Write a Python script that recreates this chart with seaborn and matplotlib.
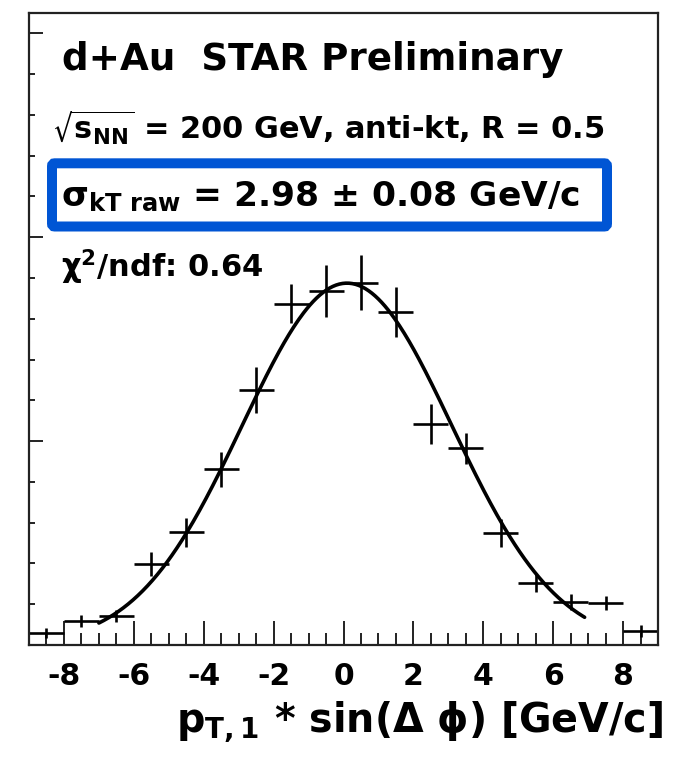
import numpy as np
import pandas as pd
import seaborn as sns
import matplotlib.pyplot as plt
from matplotlib.patches import FancyBboxPatch
from matplotlib.ticker import MultipleLocator

# bin centres and contents (arbitrary y units)
bin_centers = [-8.5, -7.5, -6.5, -5.5, -4.5, -3.5, -2.5, -1.5, -0.5,
               0.5, 1.5, 2.5, 3.5, 4.5, 5.5, 6.5, 7.5, 8.5]
counts = [5.9, 11.8, 14.2, 39.6, 55.2, 86.1, 125.3, 167.5, 173.7,
          177.8, 163.4, 108.2, 96.4, 54.8, 30.2, 21.1, 20.7, 7.0]
count_errs = [2.5, 2.9, 2.9, 5.9, 6.9, 8.8, 11.3, 9.8, 12.7,
              13.5, 12.3, 9.8, 7.8, 6.9, 4.4, 3.9, 3.4, 2.9]
bin_half_width = 0.5

# gaussian fit parameters
fit_amp = 177.5
fit_mean = 0.1
fit_sigma = 3.0
fit_range = (-7.0, 6.9)

tick_values = [-8, -6, -4, -2, 0, 2, 4, 6, 8]

df = pd.DataFrame({"x": bin_centers, "y": counts, "err": count_errs})
xf = np.linspace(fit_range[0], fit_range[1], 300)
fit_df = pd.DataFrame({"x": xf,
                       "y": fit_amp * np.exp(-0.5 * ((xf - fit_mean) / fit_sigma) ** 2)})

sns.set_theme(style="ticks")
plt.rcParams["font.family"] = ["DejaVu Sans"]
plt.rcParams["font.weight"] = "bold"
plt.rcParams["text.color"] = "black"
plt.rcParams["mathtext.fontset"] = "dejavusans"
plt.rcParams["axes.unicode_minus"] = False

W, H = 678, 766
fig = plt.figure(figsize=(W / 100, H / 100), dpi=100)
ax = fig.add_axes([29 / W, 1 - 645 / H, (658 - 29) / W, (645 - 13) / H])

# data points as ROOT-style crosses
ax.errorbar(df["x"], df["y"], xerr=bin_half_width, yerr=df["err"],
            fmt="none", ecolor="black", elinewidth=1.9, capsize=0)
sns.lineplot(data=fit_df, x="x", y="y", color="black", linewidth=2.6, ax=ax)

ax.set_xlim(-9, 9)
ax.set_ylim(0, 310)
ax.set_xticks(tick_values)
ax.set_xticklabels([str(v) for v in tick_values])
ax.xaxis.set_minor_locator(MultipleLocator(0.5))
ax.yaxis.set_major_locator(MultipleLocator(100))
ax.yaxis.set_minor_locator(MultipleLocator(20))
ax.tick_params(axis="x", which="major", direction="in", length=17, width=1.4,
               labelsize=21.5, pad=12, color="#222222", labelcolor="black")
ax.tick_params(axis="x", which="minor", direction="in", length=8.5, width=1.4,
               color="#222222")
ax.tick_params(axis="y", which="major", direction="in", length=10, width=1.4,
               labelleft=False, color="#222222")
ax.tick_params(axis="y", which="minor", direction="in", length=4.5, width=1.4,
               color="#222222")
for lab in ax.get_xticklabels():
    lab.set_fontweight("bold")
for sp in ax.spines.values():
    sp.set_linewidth(1.6)
    sp.set_color("#222222")
ax.set_xlabel("")
ax.set_ylabel("")

def fx(px):
    return px / W

def fy(py):
    return 1 - py / H

fig.text(fx(62), fy(60), "d+Au  STAR Preliminary", fontsize=26.8,
         fontweight="bold", va="center", ha="left", color="black")
fig.text(fx(52), fy(128), r"$\sqrt{\mathbf{s}_{\mathbf{NN}}}$ = 200 GeV, anti-kt, R = 0.5",
         fontsize=21.9, fontweight="bold", va="center", ha="left", color="black")
fig.text(fx(61), fy(197), r"$\mathrm{\sigma}_{\mathbf{kT\ raw}}$ = 2.98 $\mathrm{\pm}$ 0.08 GeV/c",
         fontsize=24.8, fontweight="bold", va="center", ha="left", color="black")
fig.text(fx(61), fy(267), r"$\mathrm{\chi}^{\mathbf{2}}$/ndf: 0.64",
         fontsize=22, fontweight="bold", va="center", ha="left", color="black")
fig.text(fx(663), fy(722), r"$\mathbf{p}_{\mathbf{T,1}}$ * sin($\mathrm{\Delta\ \phi}$) [GeV/c]",
         fontsize=28.5, fontweight="bold", va="center", ha="right", color="black")

box = FancyBboxPatch((fx(52), fy(226.5)), fx(607) - fx(52), fy(163.3) - fy(226.5),
                     boxstyle="round,pad=0,rounding_size=0.004",
                     transform=fig.transFigure, fill=False,
                     edgecolor="#0055D4", linewidth=7.2)
fig.patches.append(box)

fig.savefig("out.png", dpi=100)
